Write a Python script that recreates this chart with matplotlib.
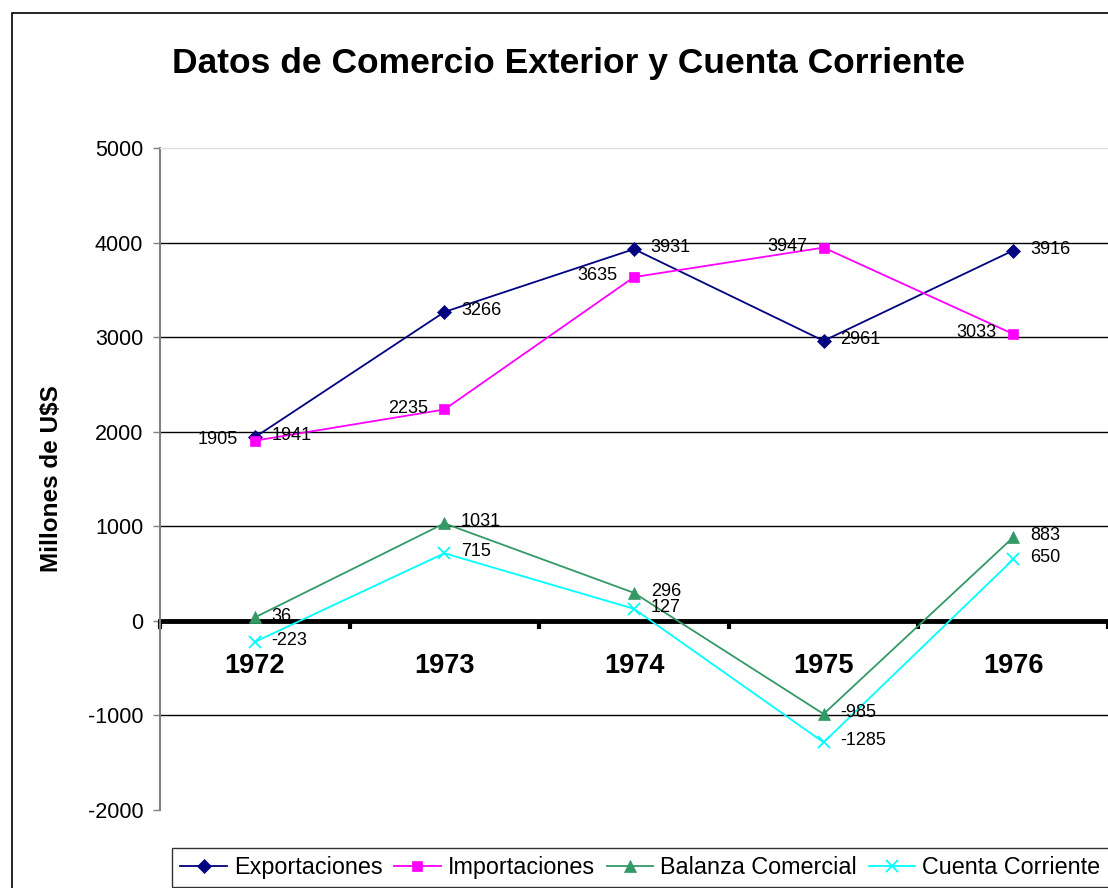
import matplotlib
matplotlib.use("Agg")
import matplotlib.pyplot as plt
from matplotlib.patches import Rectangle

plt.rcParams['font.family'] = ['Liberation Sans', 'DejaVu Sans']

years = ["1972", "1973", "1974", "1975", "1976"]
exportaciones = [1941, 3266, 3931, 2961, 3916]
importaciones = [1905, 2235, 3635, 3947, 3033]
balanza = [36, 1031, 296, -985, 883]
cuenta = [-223, 715, 127, -1285, 650]
yticks = [-2000, -1000, 0, 1000, 2000, 3000, 4000, 5000]

W, H = 1108, 888
fig = plt.figure(figsize=(W / 100, H / 100), dpi=100)
fig.patch.set_facecolor("white")

# outer chart border
fig.patches.append(Rectangle((12 / W, -0.1), 2, 1.1 - 13 / H, transform=fig.transFigure,
                             fill=False, edgecolor="black", linewidth=1.2, zorder=0))

ax = fig.add_axes([160 / W, 78 / H, 948 / W, 662 / H])
x = list(range(len(years)))

ax.set_xlim(-0.5, 4.5)
ax.set_ylim(-2000, 5000)

for v in yticks:
    if v not in (0, -2000, 5000):
        ax.axhline(v, color="black", linewidth=1.0, zorder=1)

series = [
    ("Exportaciones", exportaciones, "#000080", "D", 7, 1),
    ("Importaciones", importaciones, "#FF00FF", "s", 7, -1),
    ("Balanza Comercial", balanza, "#339966", "^", 9, 1),
    ("Cuenta Corriente", cuenta, "#00FFFF", "x", 8, 1),
]
handles = []
for name, vals, col, mk, ms, side in series:
    ln, = ax.plot(x, vals, color=col, marker=mk, markersize=ms, linewidth=1.3,
                  markeredgewidth=1.3 if mk == "x" else 0.5, markeredgecolor=col,
                  label=name, zorder=3, clip_on=False)
    handles.append(ln)
    for xi, v in zip(x, vals):
        ax.annotate(str(v), (xi, v), xytext=(12 * side, 1), textcoords="offset points",
                    ha="left" if side > 0 else "right", va="center", fontsize=13,
                    color="black", zorder=4, annotation_clip=False)

# spines
ax.spines["right"].set_visible(False)
ax.spines["top"].set_color("#e0e0e0")
ax.spines["top"].set_linewidth(1.0)
ax.spines["left"].set_color("#808080")
ax.spines["left"].set_linewidth(1.5)
ax.spines["bottom"].set_position(("data", 0))
ax.spines["bottom"].set_linewidth(3.5)
ax.spines["bottom"].set_zorder(2)

ax.set_yticks(yticks)
ax.set_yticklabels([str(v) for v in yticks], fontsize=15.5)
ax.tick_params(axis="y", direction="out", length=5, width=1, color="#808080", pad=7)

ax.set_xticks([i - 0.5 for i in range(len(years) + 1)])
ax.set_xticklabels([])
ax.set_xticks(x, minor=True)
ax.set_xticklabels(years, minor=True, fontsize=19.5, fontweight="bold")
ax.tick_params(axis="x", which="major", direction="out", length=6, width=3, color="black")
ax.tick_params(axis="x", which="minor", length=0, pad=23)

ax.set_ylabel("Millones de U$S", fontsize=17.5, fontweight="bold")
ax.yaxis.set_label_coords(-97 / 948, 0.5)

fig.text(568 / W, 1 - 63 / H, "Datos de Comercio Exterior y Cuenta Corriente",
         ha="center", va="center", fontsize=25.5, fontweight="bold")

leg = fig.legend(handles=handles, loc="upper left", bbox_to_anchor=(172 / W, 1 - 848 / H),
                 ncol=4, fontsize=16.8, frameon=True, fancybox=False, edgecolor="black",
                 handlelength=2.0, handletextpad=0.3, columnspacing=0.5, borderpad=0.35,
                 borderaxespad=0)
leg.get_frame().set_linewidth(1.0)

fig.savefig("out.png", dpi=100, facecolor="white")
